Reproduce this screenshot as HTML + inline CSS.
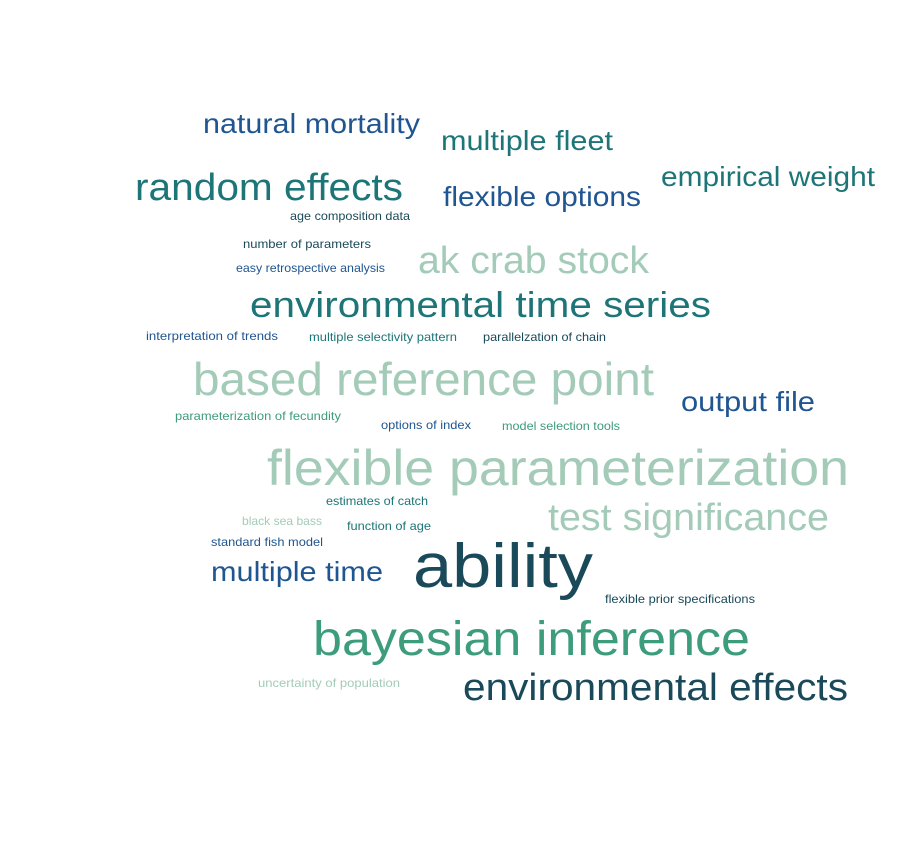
<!DOCTYPE html>
<html><head><meta charset="utf-8"><style>
html,body{margin:0;padding:0;background:#fff;}
svg text{font-family:"Liberation Sans",sans-serif;}
</style></head><body>
<svg id="cloud" width="899" height="862" xmlns="http://www.w3.org/2000/svg"></svg>
<script>
const words=["natural mortality","multiple fleet","empirical weight","random effects","flexible options","age composition data","number of parameters","ak crab stock","easy retrospective analysis","environmental time series","interpretation of trends","multiple selectivity pattern","parallelzation of chain","based reference point","output file","parameterization of fecundity","options of index","model selection tools","flexible parameterization","estimates of catch","black sea bass","test significance","function of age","standard fish model","ability","multiple time","flexible prior specifications","bayesian inference","uncertainty of population","environmental effects"];
const sizes=[28,28,28,38,28,12,12,38,12,36,12,12,12,46,28,12,12,12,50,12,12,38,12,12,62,28,12,48,12,38];
const colorIdx=[0,1,1,1,0,2,2,3,0,1,0,1,2,3,0,4,0,4,3,1,3,3,1,0,2,0,2,4,3,2];
const palette=["#1f5591","#1d7577","#1a4a5a","#a3cbb8","#3d9c7c"];
const layout=[[203,133,217],[441,150,172],[661,186,214],[135,200,268],[443,206,198],[290,220,120],[243,248,128],[418,273,231],[236,272,149],[250,317,461],[146,340,132],[309,341,148],[483,341,123],[193,395,461],[681,411,134],[175,420,166],[381,429,90],[502,430,118],[267,485,582],[326,505,102],[242,525,80],[548,530,281],[347,530,84],[211,546,112],[413,587,180],[211,581,172],[605,603,150],[313,655,437],[258,687,142],[463,700,385]];
const svg=document.getElementById('cloud');
words.forEach((w,i)=>{
  const t=document.createElementNS('http://www.w3.org/2000/svg','text');
  
  
  t.setAttribute('x',layout[i][0]);
  t.setAttribute('y',layout[i][1]);
  t.setAttribute('font-size',sizes[i]);
  t.setAttribute('fill',palette[colorIdx[i]]);
  t.setAttribute('textLength',layout[i][2]);
  t.setAttribute('lengthAdjust','spacingAndGlyphs');
  t.textContent=w;
  svg.appendChild(t);
});
</script>
</body></html>
